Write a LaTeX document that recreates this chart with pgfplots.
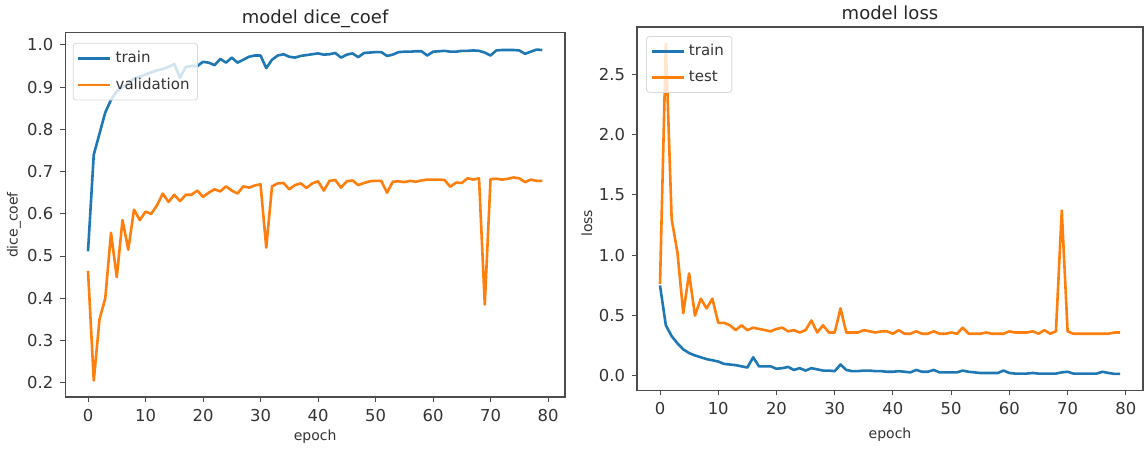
\documentclass[border=0pt]{standalone}
\usepackage{fontspec}
\setmainfont{DejaVu Sans}
\usepackage{pgfplots}
\pgfplotsset{compat=1.18}
\definecolor{tabblue}{HTML}{1F77B4}
\definecolor{taborange}{HTML}{FF7F0E}
\pgfplotsset{
  mpl/.style={
    scale only axis,
    xmin=-3.95, xmax=82.95,
    xtick={0,10,...,80},
    axis line style={black!70, line width=0.7pt},
    tick style={black!70, line width=0.5pt},
    tick align=outside,
    tickwidth=2.5pt,
    xtick pos=bottom, ytick pos=left,
    /pgf/number format/assume math mode=true,
    ticklabel style={font=\fontsize{8.2}{9}\selectfont, text=black!80},
    label style={font=\fontsize{7}{8}\selectfont, text=black!80},
    title style={font=\fontsize{9}{10}\selectfont, text=black!85, yshift=-6pt},
    legend cell align=left,
    legend style={font=\fontsize{7.5}{8}\selectfont, text=black!80, draw=black!15, rounded corners=1.5pt, fill=white, fill opacity=0.8, text opacity=1, inner sep=2pt, row sep=2pt},
    legend image code/.code={\draw[#1, line width=1.3pt] (0cm,0cm) -- (0.56cm,0cm);},
    every axis plot/.append style={line width=1.3pt, line join=round},
  }
}
\begin{document}
\begin{tikzpicture}
\useasboundingbox (0,0) rectangle (573.5pt,226.5pt);
\begin{axis}[mpl,
  at={(32.65pt,28pt)}, anchor=south west,
  width=249.85pt, height=182.15pt,
  ymin=0.166, ymax=1.029,
  ytick={0.2,0.3,...,1.0},
  yticklabel style={/pgf/number format/fixed, /pgf/number format/fixed zerofill, /pgf/number format/precision=1},
  title={model dice\_coef},
  title style={at={(axis description cs:0.5,1.0376)}, anchor=center},
  xlabel={epoch}, ylabel={dice\_coef},
  xlabel style={at={(axis description cs:0.5,-0.11)}, anchor=center},
  ylabel style={at={(axis description cs:-0.103,0.472)}, anchor=center, rotate=0},
  legend style={at={(0.015,0.972)}, anchor=north west},
]
\addplot[tabblue] coordinates {
(0,0.511)(1,0.74)(2,0.79)(3,0.84)(4,0.87)(5,0.89)(6,0.90)(7,0.91)(8,0.92)(9,0.925)
(10,0.93)(11,0.935)(12,0.94)(13,0.943)(14,0.948)(15,0.955)(16,0.922)(17,0.948)(18,0.95)(19,0.95)
(20,0.96)(21,0.958)(22,0.952)(23,0.967)(24,0.958)(25,0.97)(26,0.958)(27,0.965)(28,0.972)(29,0.975)
(30,0.975)(31,0.945)(32,0.965)(33,0.975)(34,0.978)(35,0.972)(36,0.970)(37,0.974)(38,0.976)(39,0.978)
(40,0.98)(41,0.977)(42,0.978)(43,0.981)(44,0.970)(45,0.977)(46,0.980)(47,0.971)(48,0.981)(49,0.982)
(50,0.983)(51,0.983)(52,0.974)(53,0.977)(54,0.983)(55,0.984)(56,0.984)(57,0.985)(58,0.985)(59,0.975)
(60,0.984)(61,0.985)(62,0.986)(63,0.984)(64,0.984)(65,0.986)(66,0.986)(67,0.987)(68,0.986)(69,0.982)
(70,0.975)(71,0.987)(72,0.988)(73,0.988)(74,0.988)(75,0.987)(76,0.979)(77,0.984)(78,0.989)(79,0.988)
};
\addlegendentry{train}
\addplot[taborange] coordinates {
(0,0.465)(1,0.205)(2,0.35)(3,0.40)(4,0.555)(5,0.45)(6,0.585)(7,0.515)(8,0.61)(9,0.585)
(10,0.605)(11,0.60)(12,0.62)(13,0.648)(14,0.628)(15,0.645)(16,0.63)(17,0.645)(18,0.645)(19,0.655)
(20,0.64)(21,0.65)(22,0.658)(23,0.653)(24,0.665)(25,0.655)(26,0.648)(27,0.665)(28,0.662)(29,0.667)
(30,0.670)(31,0.52)(32,0.665)(33,0.672)(34,0.673)(35,0.658)(36,0.668)(37,0.672)(38,0.661)(39,0.672)
(40,0.677)(41,0.655)(42,0.678)(43,0.68)(44,0.662)(45,0.677)(46,0.679)(47,0.668)(48,0.673)(49,0.677)
(50,0.678)(51,0.678)(52,0.650)(53,0.676)(54,0.677)(55,0.675)(56,0.678)(57,0.676)(58,0.679)(59,0.681)
(60,0.681)(61,0.681)(62,0.680)(63,0.664)(64,0.674)(65,0.673)(66,0.684)(67,0.681)(68,0.684)(69,0.385)
(70,0.682)(71,0.683)(72,0.681)(73,0.683)(74,0.686)(75,0.684)(76,0.675)(77,0.681)(78,0.678)(79,0.678)
};
\addlegendentry{validation}
\end{axis}
\begin{axis}[mpl,
  at={(318.5pt,31.25pt)}, anchor=south west,
  width=253pt, height=181.75pt,
  ymin=-0.12, ymax=2.89,
  ytick={0,0.5,...,2.5},
  yticklabel style={/pgf/number format/fixed, /pgf/number format/fixed zerofill, /pgf/number format/precision=1},
  title={model loss},
  title style={at={(axis description cs:0.5,1.038)}, anchor=center},
  xlabel={epoch}, ylabel={loss},
  xlabel style={at={(axis description cs:0.5,-0.122)}, anchor=center},
  ylabel style={at={(axis description cs:-0.099,0.46)}, anchor=center, rotate=0},
  legend style={at={(0.018,0.975)}, anchor=north west},
]
\addplot[tabblue] coordinates {
(0,0.75)(1,0.42)(2,0.33)(3,0.27)(4,0.22)(5,0.19)(6,0.17)(7,0.155)(8,0.14)(9,0.13)
(10,0.12)(11,0.10)(12,0.095)(13,0.09)(14,0.08)(15,0.07)(16,0.155)(17,0.08)(18,0.08)(19,0.08)
(20,0.06)(21,0.065)(22,0.075)(23,0.05)(24,0.065)(25,0.045)(26,0.065)(27,0.055)(28,0.045)(29,0.045)
(30,0.04)(31,0.095)(32,0.05)(33,0.04)(34,0.04)(35,0.045)(36,0.045)(37,0.04)(38,0.04)(39,0.035)
(40,0.035)(41,0.04)(42,0.035)(43,0.03)(44,0.05)(45,0.035)(46,0.035)(47,0.05)(48,0.03)(49,0.03)
(50,0.03)(51,0.03)(52,0.045)(53,0.035)(54,0.03)(55,0.025)(56,0.025)(57,0.025)(58,0.025)(59,0.045)
(60,0.025)(61,0.02)(62,0.02)(63,0.02)(64,0.025)(65,0.02)(66,0.02)(67,0.02)(68,0.02)(69,0.03)
(70,0.035)(71,0.02)(72,0.02)(73,0.02)(74,0.02)(75,0.02)(76,0.035)(77,0.025)(78,0.018)(79,0.018)
};
\addlegendentry{train}
\addplot[taborange] coordinates {
(0,0.76)(1,2.75)(2,1.3)(3,1.02)(4,0.52)(5,0.85)(6,0.50)(7,0.64)(8,0.56)(9,0.64)
(10,0.44)(11,0.44)(12,0.42)(13,0.38)(14,0.42)(15,0.38)(16,0.40)(17,0.39)(18,0.38)(19,0.37)
(20,0.39)(21,0.40)(22,0.37)(23,0.38)(24,0.36)(25,0.38)(26,0.46)(27,0.36)(28,0.42)(29,0.36)
(30,0.36)(31,0.56)(32,0.36)(33,0.36)(34,0.36)(35,0.38)(36,0.37)(37,0.36)(38,0.37)(39,0.37)
(40,0.35)(41,0.38)(42,0.35)(43,0.35)(44,0.37)(45,0.35)(46,0.35)(47,0.37)(48,0.35)(49,0.35)
(50,0.36)(51,0.35)(52,0.40)(53,0.35)(54,0.35)(55,0.35)(56,0.36)(57,0.35)(58,0.35)(59,0.35)
(60,0.37)(61,0.36)(62,0.36)(63,0.36)(64,0.37)(65,0.35)(66,0.38)(67,0.35)(68,0.37)(69,1.37)
(70,0.37)(71,0.35)(72,0.35)(73,0.35)(74,0.35)(75,0.35)(76,0.35)(77,0.35)(78,0.36)(79,0.36)
};
\addlegendentry{test}
\end{axis}
\end{tikzpicture}
\end{document}
